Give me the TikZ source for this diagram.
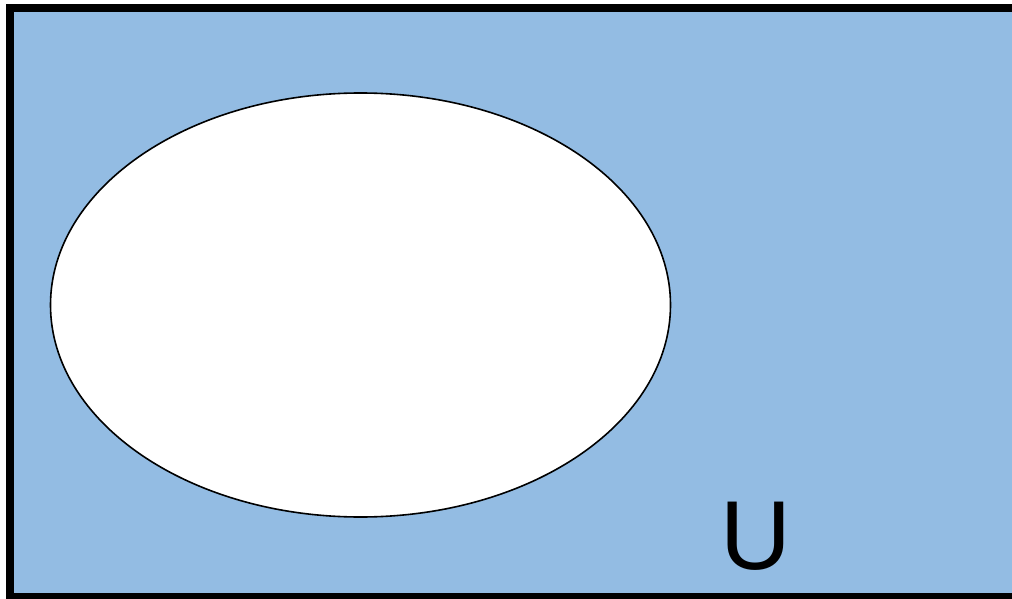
\documentclass[tikz,border=0pt]{standalone}
\usepackage{fontspec}
\setmainfont{Liberation Sans}
\definecolor{setblue}{RGB}{147,188,227}
\tikzset{
  universe/.style={draw=black, line width=8pt, fill=setblue},
  setA/.style={draw=black, line width=1.6pt, fill=white},
  ulabel/.style={font=\fontsize{98}{98}\selectfont, inner sep=0pt, anchor=base}
}
\begin{document}
\begin{tikzpicture}[x=1pt,y=-1pt]
\useasboundingbox (0,0) rectangle (1012,599);
\begin{scope}
\clip (0,0) rectangle (1012,599);
\draw[universe] (10,8) rectangle (1030,597);
\end{scope}
\draw[setA] (360.5,305) ellipse [x radius=310, y radius=212];
\node[ulabel] (U) at (756,569) {U};
\end{tikzpicture}
\end{document}
